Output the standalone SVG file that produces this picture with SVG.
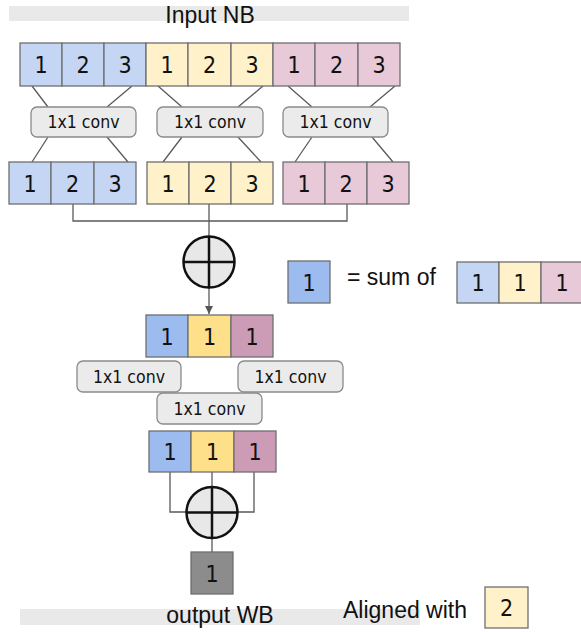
<svg xmlns="http://www.w3.org/2000/svg" width="581" height="632" viewBox="0 0 581 632">
  <defs>
    <style>
      .band { fill: #e9e9e9; }
      .title { font-family: "Liberation Sans", Arial, sans-serif; font-size: 23px; fill: #111; text-anchor: middle; }
      .label { font-family: "Liberation Sans", Arial, sans-serif; font-size: 23px; fill: #111; }
      .cell { stroke: #6f6f6f; stroke-width: 1.3; }
      .num { font-family: "DejaVu Sans Condensed", "DejaVu Sans", sans-serif; font-stretch: condensed; font-size: 23px; fill: #111; text-anchor: middle; }
      .conv rect { fill: #ebebeb; stroke: #8a8a8a; stroke-width: 1.3; }
      .conv text { font-family: "DejaVu Sans Condensed", "DejaVu Sans", sans-serif; font-stretch: condensed; font-size: 17.5px; fill: #111; text-anchor: middle; }
      .wire { fill: none; stroke: #5a5a5a; stroke-width: 1.3; }
      .sum circle { fill: #e8e8e8; stroke: #111; stroke-width: 2.5; }
      .sum path { stroke: #111; stroke-width: 2.5; fill: none; }
      .b1 { fill: #c4d6f4; } .y1 { fill: #fff1c9; } .p1 { fill: #e7c9d8; }
      .b2 { fill: #9cbbef; } .y2 { fill: #fee08a; } .p2 { fill: #cc9bb6; }
      .g2 { fill: #8c8c8c; }
    </style>
    <marker id="arrow" viewBox="0 0 10 10" refX="10" refY="5" markerWidth="8" markerHeight="8" markerUnits="userSpaceOnUse" orient="auto">
      <path d="M0,0 L10,5 L0,10 z" fill="#555"/>
    </marker>
  </defs>

  <!-- header band -->
  <g id="header">
    <rect class="band" x="9" y="6" width="400" height="15"/>
    <text class="title" x="210" y="23">Input NB</text>
  </g>

  <!-- connectors -->
  <g id="connectors">
    <!-- input row to 1x1 convs -->
    <path class="wire" d="M32,86 L48,107 M132,86 L107,107"/>
    <path class="wire" d="M158,86 L182,107 M263,86 L238,107"/>
    <path class="wire" d="M288,86 L312,107 M395,86 L370,107"/>
    <!-- 1x1 convs to second row -->
    <path class="wire" d="M48,137 L32,162 M107,137 L128,162"/>
    <path class="wire" d="M182,137 L163,162 M238,137 L261,162"/>
    <path class="wire" d="M312,137 L295,162 M372,137 L393,162"/>
    <!-- gather into first sum -->
    <path class="wire" d="M73,204 V221 H347 V204 M209,204 V237"/>
    <path class="wire" d="M209,288 V314" marker-end="url(#arrow)"/>
    <!-- gather into second sum -->
    <path class="wire" d="M170,472 V512 H254 V472 M212,472 V487"/>
    <path class="wire" d="M212,538 V552"/>
  </g>

  <!-- input NB row -->
  <g id="input-row">
    <rect class="cell b1" x="20" y="43" width="42" height="43"/>
    <rect class="cell b1" x="62" y="43" width="42" height="43"/>
    <rect class="cell b1" x="104" y="43" width="42" height="43"/>
    <rect class="cell y1" x="146" y="43" width="42" height="43"/>
    <rect class="cell y1" x="188" y="43" width="43" height="43"/>
    <rect class="cell y1" x="231" y="43" width="42" height="43"/>
    <rect class="cell p1" x="273" y="43" width="42" height="43"/>
    <rect class="cell p1" x="315" y="43" width="43" height="43"/>
    <rect class="cell p1" x="358" y="43" width="42" height="43"/>
    <text class="num" x="41" y="73">1</text>
    <text class="num" x="83" y="73">2</text>
    <text class="num" x="125" y="73">3</text>
    <text class="num" x="167" y="73">1</text>
    <text class="num" x="209.5" y="73">2</text>
    <text class="num" x="252" y="73">3</text>
    <text class="num" x="294" y="73">1</text>
    <text class="num" x="336.5" y="73">2</text>
    <text class="num" x="379" y="73">3</text>
  </g>

  <!-- per-group 1x1 convs -->
  <g id="conv-a" class="conv">
    <rect x="31" y="107" width="105" height="30" rx="6"/>
    <text x="83.5" y="128">1x1 conv</text>
  </g>
  <g id="conv-b" class="conv">
    <rect x="157" y="107" width="106" height="30" rx="6"/>
    <text x="210" y="128">1x1 conv</text>
  </g>
  <g id="conv-c" class="conv">
    <rect x="283" y="107" width="105" height="30" rx="6"/>
    <text x="335.5" y="128">1x1 conv</text>
  </g>

  <!-- second row -->
  <g id="conv-row">
    <rect class="cell b1" x="9" y="162" width="42" height="42"/>
    <rect class="cell b1" x="51" y="162" width="43" height="42"/>
    <rect class="cell b1" x="94" y="162" width="42" height="42"/>
    <rect class="cell y1" x="147" y="162" width="42" height="42"/>
    <rect class="cell y1" x="189" y="162" width="42" height="42"/>
    <rect class="cell y1" x="231" y="162" width="42" height="42"/>
    <rect class="cell p1" x="283" y="162" width="42" height="42"/>
    <rect class="cell p1" x="325" y="162" width="42" height="42"/>
    <rect class="cell p1" x="367" y="162" width="42" height="42"/>
    <text class="num" x="30" y="192">1</text>
    <text class="num" x="72.5" y="192">2</text>
    <text class="num" x="115" y="192">3</text>
    <text class="num" x="168" y="192">1</text>
    <text class="num" x="210" y="192">2</text>
    <text class="num" x="252" y="192">3</text>
    <text class="num" x="304" y="192">1</text>
    <text class="num" x="346" y="192">2</text>
    <text class="num" x="388" y="192">3</text>
  </g>

  <!-- first sum -->
  <g id="sum-1" class="sum">
    <circle cx="209" cy="262" r="25.5"/>
    <path d="M183.5,262 H234.5 M209,236.5 V287.5"/>
  </g>

  <!-- legend -->
  <g id="legend">
    <rect class="cell b2" x="288" y="261" width="42" height="42"/>
    <text class="num" x="309" y="291">1</text>
    <text class="label" x="347" y="285">= sum of</text>
    <rect class="cell b1" x="457" y="262" width="42" height="41"/>
    <rect class="cell y1" x="499" y="262" width="42" height="41"/>
    <rect class="cell p1" x="541" y="262" width="42" height="41"/>
    <text class="num" x="478" y="291">1</text>
    <text class="num" x="520" y="291">1</text>
    <text class="num" x="562" y="291">1</text>
  </g>

  <!-- summed row -->
  <g id="sum-row">
    <rect class="cell b2" x="146" y="315" width="42" height="42"/>
    <rect class="cell y2" x="188" y="315" width="43" height="42"/>
    <rect class="cell p2" x="231" y="315" width="42" height="42"/>
    <text class="num" x="167" y="345">1</text>
    <text class="num" x="209.5" y="345">1</text>
    <text class="num" x="252" y="345">1</text>
  </g>

  <!-- shared 1x1 convs -->
  <g id="conv-left" class="conv">
    <rect x="77" y="361" width="104" height="31" rx="6"/>
    <text x="129" y="383">1x1 conv</text>
  </g>
  <g id="conv-right" class="conv">
    <rect x="238" y="361" width="105" height="31" rx="6"/>
    <text x="290.5" y="383">1x1 conv</text>
  </g>
  <g id="conv-mid" class="conv">
    <rect x="157" y="393" width="105" height="31" rx="6"/>
    <text x="209.5" y="415">1x1 conv</text>
  </g>

  <!-- recombined row -->
  <g id="mix-row">
    <rect class="cell b2" x="149" y="431" width="42" height="41"/>
    <rect class="cell y2" x="191" y="431" width="43" height="41"/>
    <rect class="cell p2" x="234" y="431" width="42" height="41"/>
    <text class="num" x="170" y="460">1</text>
    <text class="num" x="212.5" y="460">1</text>
    <text class="num" x="255" y="460">1</text>
  </g>

  <!-- second sum -->
  <g id="sum-2" class="sum">
    <circle cx="212" cy="512.5" r="25.5"/>
    <path d="M186.5,512.5 H237.5 M212,487 V538"/>
  </g>

  <!-- output -->
  <g id="output">
    <rect class="cell g2" x="191" y="552" width="42" height="42"/>
    <text class="num" x="212" y="582">1</text>
  </g>

  <!-- footer band -->
  <g id="footer">
    <rect class="band" x="20" y="609" width="400" height="16"/>
    <text class="title" x="220" y="623">output WB</text>
  </g>

  <!-- alignment note -->
  <g id="aligned-note">
    <text class="label" x="343" y="618">Aligned with</text>
    <rect class="cell y1" x="485" y="587" width="43" height="41"/>
    <text class="num" x="506.5" y="616">2</text>
  </g>
</svg>
